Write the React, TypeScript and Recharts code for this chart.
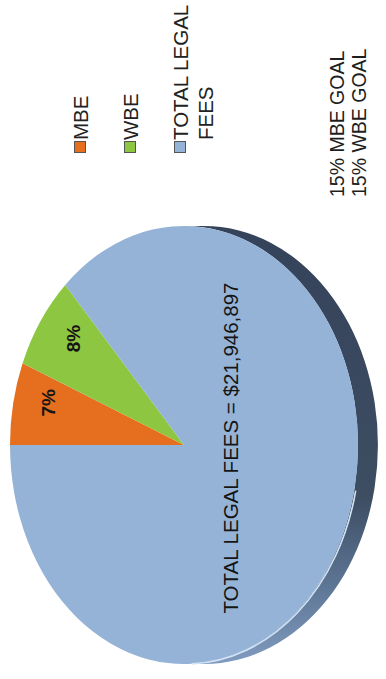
import { PieChart, Pie, Cell, Legend } from 'recharts'

// MBE and WBE fees as % of total legal fees; the total itself is the third slice
const categories = ['MBE', 'WBE', 'TOTAL LEGAL FEES']
const shares = [7, 8, 100]
const colors = ['#e56f1f', '#8dc640', '#95b3d7']
const totalFees = 21946897
const goalLines = ['15% MBE GOAL', '15% WBE GOAL']

const data = categories.map((name, i) => ({ name, value: shares[i] }))

const RX = 174
const RY = 219
const DEPTH = 20
const FONT = '"Liberation Sans", Arial, sans-serif'
const RAD = Math.PI / 180

// point on the tilted (elliptical) pie rim
const pt = (cx: number, cy: number, a: number, k = 1) => [
  cx + k * RX * Math.cos(a * RAD),
  cy - k * RY * Math.sin(a * RAD),
]

function EllipseSector(props: any) {
  const { cx, cy, startAngle, endAngle, fill } = props
  const [x1, y1] = pt(cx, cy, startAngle)
  const [x2, y2] = pt(cx, cy, endAngle)
  const large = Math.abs(startAngle - endAngle) > 180 ? 1 : 0
  const face = `M${cx},${cy} L${x1},${y1} A${RX},${RY} 0 ${large} 1 ${x2},${y2} Z`

  // visible side of the 3d disc (right half only)
  const hi = Math.min(Math.max(startAngle, endAngle), 90)
  const lo = Math.max(Math.min(startAngle, endAngle), -90)
  let side = null
  let shine = null
  if (hi > lo) {
    const [a1, b1] = pt(cx, cy, hi)
    const [a2, b2] = pt(cx, cy, lo)
    const l = hi - lo > 180 ? 1 : 0
    side = `M${a1},${b1} A${RX},${RY} 0 ${l} 1 ${a2},${b2} L${a2 + DEPTH},${b2} A${RX},${RY} 0 ${l} 0 ${a1 + DEPTH},${b1} Z`
    const h2 = Math.min(hi, -12)
    const l2 = Math.max(lo, -88)
    if (h2 > l2) {
      const [s1, t1] = pt(cx, cy, h2)
      const [s2, t2] = pt(cx, cy, l2)
      shine = `M${s1 + 1.5},${t1} A${RX},${RY} 0 0 1 ${s2 + 1.5},${t2}`
    }
  }

  return (
    <g>
      {side && <path d={side} fill="url(#sideGrad)" />}
      <path d={face} fill={fill} />
      {shine && <path d={shine} fill="none" stroke="#d3e3f5" strokeWidth={1.6} />}
    </g>
  )
}

const renderLabel = (props: any) => {
  const { cx, cy, midAngle, index, value, name } = props
  let x: number
  let y: number
  let text: string
  let weight = 700
  if (index === categories.length - 1) {
    x = cx + 0.265 * RX
    y = cy + 3
    text = `${name} = $${totalFees.toLocaleString('en-US')}`
    weight = 400
  } else {
    ;[x, y] = pt(cx, cy, midAngle - 3, 0.8)
    text = `${value}%`
  }
  return (
    <text
      key={`lbl-${index}`}
      x={x}
      y={y}
      transform={`rotate(-90 ${x} ${y})`}
      textAnchor="middle"
      dominantBaseline="central"
      fontFamily={FONT}
      fontSize={weight === 700 ? 19 : 20.5}
      fontWeight={weight}
      fill="#151515"
    >
      {text}
    </text>
  )
}

const renderLegend = ({ payload }: any) => {
  const items = [...(payload || [])].sort(
    (a: any, b: any) => categories.indexOf(a.value) - categories.indexOf(b.value)
  )
  return (
    <div style={{ fontFamily: FONT, fontSize: 20.5, lineHeight: '25px', color: '#222' }}>
      {items.map((p: any, i: number) => (
        <div key={i} style={{ display: 'flex', alignItems: 'flex-start', marginBottom: 25 }}>
          <span
            style={{
              width: 10,
              height: 10,
              margin: '6px 1px 0 2px',
              background: p.color,
              border: '1px solid #555',
              flex: 'none',
            }}
          />
          <span style={{ width: 150 }}>{p.value}</span>
        </div>
      ))}
    </div>
  )
}

export default function App() {
  return (
    <div style={{ position: 'absolute', left: 0, top: 0, width: 386, height: 679, background: '#fff' }}>
      <PieChart width={386} height={679} margin={{ top: 0, right: 0, bottom: 0, left: 0 }}>
        <defs>
          <linearGradient id="sideGrad" x1="0" y1="0" x2="0" y2="1">
            <stop offset="0" stopColor="#35435a" />
            <stop offset="0.62" stopColor="#3d4d62" />
            <stop offset="0.8" stopColor="#5a7290" />
            <stop offset="1" stopColor="#809bbf" />
          </linearGradient>
        </defs>
        <Pie
          data={data}
          dataKey="value"
          nameKey="name"
          cx={184}
          cy={445}
          outerRadius={RX}
          startAngle={180}
          endAngle={-180}
          stroke="none"
          shape={EllipseSector}
          label={renderLabel}
          labelLine={false}
          isAnimationActive={false}
        >
          {data.map((d, i) => (
            <Cell key={d.name} fill={colors[i]} />
          ))}
        </Pie>
        <Legend
          content={renderLegend}
          wrapperStyle={{
            left: 67.5,
            top: 155,
            bottom: 'auto',
            right: 'auto',
            width: 200,
            transform: 'rotate(-90deg)',
            transformOrigin: '0 0',
          }}
        />
      </PieChart>
      <div
        style={{
          position: 'absolute',
          left: 326,
          top: 197,
          transform: 'rotate(-90deg)',
          transformOrigin: '0 0',
          whiteSpace: 'nowrap',
          fontFamily: FONT,
          fontSize: 19.5,
          lineHeight: '22px',
          color: '#1e1e1e',
        }}
      >
        {goalLines.map((g) => (
          <div key={g}>{g}</div>
        ))}
      </div>
    </div>
  )
}
